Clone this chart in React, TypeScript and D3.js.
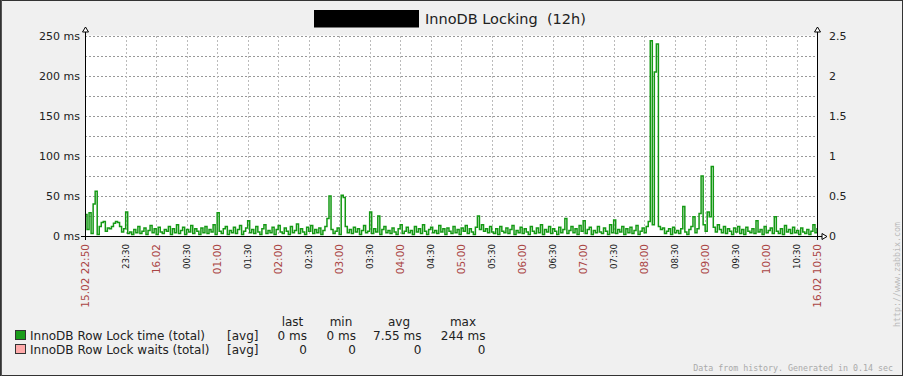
import React from "react";
import * as d3 from "d3";

// ---------- data ----------
const title = "InnoDB Locking  (12h)";
const startTime = "2024-02-15 22:50";
const endTime = "2024-02-16 10:50";
const stepMinutes = 2;

// InnoDB Row Lock time (total), ms, one value per 2 minutes from 22:50
const lockTime: number[] = [
  27, 8, 29, 3, 40, 56, 2, 12, 17, 18, 6, 10, 9, 12, 16, 18, 17, 12, 5, 9,
  30, 3, 5, 2, 8, 4, 12, 3, 6, 10, 2, 7, 13, 4, 9, 2, 11, 5, 3, 8,
  6, 12, 2, 9, 4, 14, 3, 7, 11, 2, 8, 5, 13, 3, 9, 6, 2, 10, 4, 12,
  3, 8, 5, 14, 2, 29, 6, 3, 9, 12, 2, 7, 4, 11, 3, 8, 13, 2, 6, 10,
  19, 4, 8, 3, 12, 5, 2, 9, 14, 3, 7, 4, 11, 2, 8, 13, 5, 3, 10, 6,
  2, 12, 4, 7, 15, 3, 9, 5, 2, 11, 6, 13, 3, 8, 4, 10, 2, 7, 12, 22,
  50, 8, 3, 6, 10, 2, 51, 48, 12, 4, 8, 3, 11, 5, 9, 2, 7, 13, 4, 6,
  30, 3, 9, 5, 25, 2, 8, 12, 4, 7, 3, 10, 5, 2, 9, 14, 3, 6, 11, 4,
  7, 2, 12, 5, 9, 3, 14, 6, 2, 8, 11, 4, 7, 3, 13, 5, 9, 2, 10, 6,
  3, 12, 4, 8, 2, 10, 6, 13, 3, 9, 5, 2, 11, 25, 8, 14, 6, 9, 4, 12,
  5, 3, 9, 2, 12, 6, 4, 10, 3, 8, 13, 2, 7, 4, 11, 3, 9, 5, 2, 12,
  6, 3, 10, 4, 14, 2, 8, 5, 12, 3, 9, 6, 2, 11, 4, 8, 22, 3, 7, 12,
  4, 9, 2, 13, 6, 19, 3, 8, 11, 2, 7, 4, 12, 5, 3, 10, 6, 2, 14, 4,
  20, 3, 8, 5, 12, 2, 9, 4, 11, 3, 7, 13, 2, 6, 10, 4, 12, 18, 244, 14,
  205, 240, 12, 8, 10, 3, 6, 9, 2, 11, 4, 7, 3, 9, 37, 5, 2, 8, 12, 24,
  4, 9, 28, 75, 14, 6, 30, 24, 87, 11, 5, 14, 8, 4, 12, 3, 9, 6, 2, 10,
  5, 12, 3, 8, 2, 11, 6, 4, 9, 3, 19, 5, 8, 2, 12, 4, 7, 10, 3, 24,
  6, 3, 9, 2, 13, 5, 8, 3, 11, 4, 7, 2, 10, 5, 3, 8, 2, 6, 14, 4,
  10,
];

const leftTicks = [0, 50, 100, 150, 200, 250];
const leftGrid = [0, 25, 50, 75, 100, 125, 150, 175, 200, 225, 250];
const rightTicks = [0, 0.5, 1, 1.5, 2, 2.5];

const xTickTimes = [
  "2024-02-15 22:50", "2024-02-15 23:30", "2024-02-16 00:00", "2024-02-16 00:30",
  "2024-02-16 01:00", "2024-02-16 01:30", "2024-02-16 02:00", "2024-02-16 02:30",
  "2024-02-16 03:00", "2024-02-16 03:30", "2024-02-16 04:00", "2024-02-16 04:30",
  "2024-02-16 05:00", "2024-02-16 05:30", "2024-02-16 06:00", "2024-02-16 06:30",
  "2024-02-16 07:00", "2024-02-16 07:30", "2024-02-16 08:00", "2024-02-16 08:30",
  "2024-02-16 09:00", "2024-02-16 09:30", "2024-02-16 10:00", "2024-02-16 10:30",
  "2024-02-16 10:50",
];
const xTickLabels = [
  "15.02 22:50", "23:30", "16.02", "00:30", "01:00", "01:30", "02:00", "02:30",
  "03:00", "03:30", "04:00", "04:30", "05:00", "05:30", "06:00", "06:30",
  "07:00", "07:30", "08:00", "08:30", "09:00", "09:30", "10:00", "10:30",
  "16.02 10:50",
];
const xTickMajor = [
  true, false, true, false, true, false, true, false, true, false, true, false,
  true, false, true, false, true, false, true, false, true, false, true, false, true,
];

const legendNames = ["InnoDB Row Lock time (total)", "InnoDB Row Lock waits (total)"];
const legendColors = ["#1A9C1A", "#FFAAAA"];
const legendHeaders = ["last", "min", "avg", "max"];
const legendValues = [
  ["0 ms", "0 ms", "7.55 ms", "244 ms"],
  ["0", "0", "0", "0"],
];

// ---------- layout ----------
const W = 903;
const H = 376;
const PL = 85;
const PR = 817;
const PT = 36;
const PB = 236;
const FONT = "'DejaVu Sans', sans-serif";
const MONO = "'DejaVu Sans Mono', monospace";

export default function App() {
  const parse = d3.timeParse("%Y-%m-%d %H:%M");
  const t0 = parse(startTime) as Date;
  const t1 = parse(endTime) as Date;
  const x = d3.scaleTime().domain([t0, t1]).range([PL, PR]);
  const y = d3.scaleLinear().domain([0, 250]).range([PB, PT]);
  const yR = d3.scaleLinear().domain([0, 2.5]).range([PB, PT]);

  const pts = lockTime.map((v, i) => ({
    t: d3.timeMinute.offset(t0, i * stepMinutes),
    v,
  }));
  const line = d3
    .line<{ t: Date; v: number }>()
    .x((d) => x(d.t))
    .y((d) => y(d.v))
    .curve(d3.curveStepAfter);

  const ticks = xTickTimes.map((s) => parse(s) as Date);
  const colX = [307, 356, 421.5, 485.5];
  const headX = [292.5, 341, 399, 463];

  return (
    <div style={{ position: "absolute", left: 0, top: 0 }}>
      <svg width={W} height={H} style={{ display: "block" }}>
        <rect x={0} y={0} width={W} height={H} fill="#f0f0f0" />
        <rect x={0.5} y={0.5} width={W - 1} height={H - 1} fill="none" stroke="#333" strokeWidth={1} />
        <line x1={1.5} y1={0} x2={1.5} y2={H} stroke="#555" strokeWidth={1} />

        {/* title */}
        <rect x={314} y={10} width={105} height={17.5} fill="#000" />
        <text x={425} y={24} fontFamily={FONT} fontSize={14.5} fill="#222" style={{ whiteSpace: "pre" }}>
          {title}
        </text>

        {/* plot background */}
        <rect x={PL} y={PT - 0.5} width={PR - PL} height={PB - PT + 0.5} fill="#fff" />

        {/* horizontal grid */}
        {leftGrid.map((g) => (
          <line
            key={"hg" + g}
            x1={PL}
            x2={PR}
            y1={Math.round(y(g)) + 0.5}
            y2={Math.round(y(g)) + 0.5}
            stroke="#999"
            strokeDasharray="2,2"
          />
        ))}
        {/* vertical grid */}
        {ticks.slice(1, -1).map((t, i) => (
          <line
            key={"vg" + i}
            x1={Math.round(x(t)) + 0.5}
            x2={Math.round(x(t)) + 0.5}
            y1={PT}
            y2={PB}
            stroke="#bbb"
            strokeDasharray="2,2"
          />
        ))}

        {/* data */}
        <path d={line(pts) || ""} fill="none" stroke="#149914" strokeWidth={1.5} />

        {/* axes */}
        <line x1={PL + 0.5} x2={PL + 0.5} y1={29} y2={240} stroke="#000" />
        <line x1={PR + 0.5} x2={PR + 0.5} y1={29} y2={240} stroke="#000" />
        <line x1={81} x2={824} y1={PB + 0.5} y2={PB + 0.5} stroke="#000" />
        <path d={`M${PL + 0.5},27 L${PL - 2.5},32 L${PL + 3.5},32 Z`} fill="#fff" stroke="#000" />
        <path d={`M${PR + 0.5},27 L${PR - 2.5},32 L${PR + 3.5},32 Z`} fill="#fff" stroke="#000" />
        <path d={`M827,${PB + 0.5} L822,${PB - 2.5} L822,${PB + 3.5} Z`} fill="#fff" stroke="#000" />

        {/* left labels */}
        {leftTicks.map((v) => (
          <text
            key={"l" + v}
            x={80}
            y={y(v)}
            dy="0.36em"
            textAnchor="end"
            fontFamily={FONT}
            fontSize={11}
            fill="#222"
          >
            {v + " ms"}
          </text>
        ))}
        {/* right labels */}
        {rightTicks.map((v) => (
          <text
            key={"r" + v}
            x={829}
            y={yR(v)}
            dy="0.36em"
            fontFamily={FONT}
            fontSize={11}
            fill="#222"
          >
            {String(v)}
          </text>
        ))}

        {/* x labels */}
        {ticks.map((t, i) => {
          const cx = x(t) + 0.5;
          const major = xTickMajor[i];
          return (
            <text
              key={"x" + i}
              transform={`translate(${cx},244) rotate(-90)`}
              dy="0.36em"
              textAnchor="end"
              fontFamily={FONT}
              fontSize={major ? 10.5 : 8.7}
              fill={major ? "#aa4444" : "#222"}
            >
              {xTickLabels[i]}
            </text>
          );
        })}

        {/* legend */}
        {legendHeaders.map((h, i) => (
          <text key={"h" + i} x={headX[i]} y={326} textAnchor="middle" fontFamily={FONT} fontSize={12} fill="#222">
            {h}
          </text>
        ))}
        {legendNames.map((n, r) => {
          const by = 340 + r * 14;
          return (
            <g key={"lg" + r}>
              <rect x={15.5} y={by - 9.5} width={10} height={9} fill={legendColors[r]} stroke="#333" />
              <text x={30} y={by} fontFamily={FONT} fontSize={12} fill="#222">
                {n}
              </text>
              <text x={227} y={by} fontFamily={FONT} fontSize={12} fill="#222">
                [avg]
              </text>
              {legendValues[r].map((v, c) => (
                <text key={c} x={colX[c]} y={by} textAnchor="end" fontFamily={FONT} fontSize={12} fill="#222">
                  {v}
                </text>
              ))}
            </g>
          );
        })}

        {/* footer */}
        <text x={893} y={371} textAnchor="end" fontFamily={MONO} fontSize={8.3} fill="#aaa">
          Data from history. Generated in 0.14 sec
        </text>
        <text
          transform="translate(897,327) rotate(-90)"
          dy="0.36em"
          fontFamily={MONO}
          fontSize={8.3}
          fill="#bbb"
        >
          http://www.zabbix.com
        </text>
      </svg>
    </div>
  );
}
